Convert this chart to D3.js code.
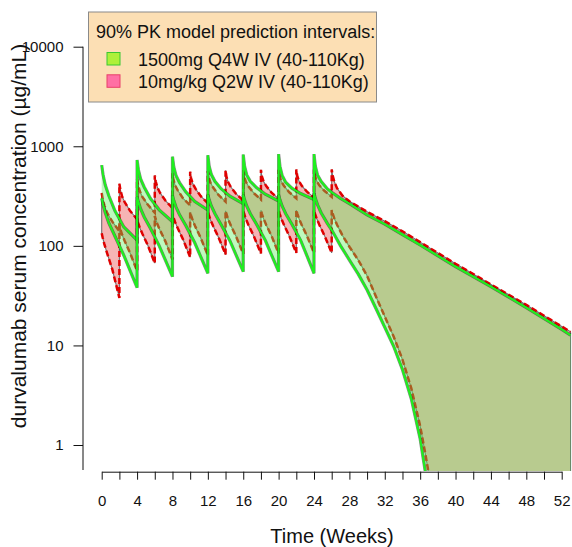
<!DOCTYPE html>
<html><head><meta charset="utf-8">
<script src="https://cdn.jsdelivr.net/npm/d3@7"></script>
<style>body{margin:0;background:#fff}svg{display:block;font-family:"Liberation Sans",Arial,Helvetica,sans-serif}</style>
</head><body><svg id="c" width="572" height="547"></svg>
<script>
// ---- tick labels ----
const xTickWeeks = [0,2,4,6,8,10,12,14,16,18,20,22,24,26,28,30,32,34,36,38,40,42,44,46,48,50,52];
const xLabelWeeks = [0,4,8,12,16,20,24,28,32,36,40,44,48,52];
const yTickValues = [1,10,100,1000,10000];
const legendTitle = "90% PK model prediction intervals:";
const seriesNames = ["1500mg Q4W IV (40-110Kg)", "10mg/kg Q2W IV (40-110Kg)"];

// ---- 1500 mg Q4W: 95th percentile [week, ug/mL] ----
const q4wUpper = [
 [0,647],[0.15,520],[0.4,410],[0.8,320],[1.5,225],[2.5,155],[4,114],
 [4,727],[4.15,580],[4.4,470],[4.8,390],[5.5,300],[6.5,230],[8,175],
 [8,785],[8.15,620],[8.4,510],[8.8,430],[9.5,350],[10.5,280],[12,229],
 [12,813],[12.15,630],[12.4,520],[12.8,445],[13.5,375],[14.5,315],[16,265],
 [16,825],[16.15,630],[16.4,515],[16.8,445],[17.5,385],[18.5,330],[20,282],
 [20,835],[20.15,630],[20.4,510],[20.8,435],[21.5,380],[22.5,335],[24,292],
 [24,835],[24.15,630],[24.4,515],[24.8,445],[25.5,375],[26,345],[27,300],[28,265],
 [30,205],[32,165],[34,130],[36,102],[40,62],[44,39],[48,24],[52,14.5],[53,12.7]
];
// ---- 1500 mg Q4W: 5th percentile ----
const q4wLower = [
 [0,300],[0.15,260],[0.4,215],[0.8,170],[1.5,125],[2.5,80],[4,38],
 [4,310],[4.15,275],[4.4,235],[4.8,195],[5.5,150],[6.5,100],[8,49],
 [8,320],[8.15,285],[8.4,245],[8.8,205],[9.5,160],[10.5,108],[12,53],
 [12,324],[12.15,290],[12.4,250],[12.8,210],[13.5,163],[14.5,112],[16,55],
 [16,324],[16.15,290],[16.4,250],[16.8,210],[17.5,165],[18.5,113],[20,55],
 [20,324],[20.15,290],[20.4,250],[20.8,210],[21.5,165],[22.5,113],[24,53],
 [24,338],[24.15,300],[24.4,258],[24.8,215],[25.5,168],[26,144],[27,100],[28,72],
 [29,52],[30,36],[31,23.5],[32,15.2],[33,9.8],[34,5.7],[35,2.9],[36,1.15],
 [36.55,0.56],[37,0.3],[37.5,0.1],[53,0.1]
];
// ---- 10 mg/kg Q2W: 95th percentile ----
const q2wUpper = [
 [0,340],[0.1,300],[0.3,255],[0.6,215],[1.2,175],[2,140],
 [2,420],[2.1,370],[2.3,315],[2.6,275],[3.2,225],[4,185],
 [4,470],[4.1,410],[4.3,355],[4.6,310],[5.2,260],[6,215],
 [6,510],[6.1,445],[6.3,385],[6.6,340],[7.2,285],[8,240],
 [8,535],[8.1,465],[8.3,405],[8.6,360],[9.2,300],[10,255],
 [10,555],[10.1,480],[10.3,420],[10.6,375],[11.2,315],[12,268],
 [12,565],[12.1,490],[12.3,430],[12.6,385],[13.2,325],[14,278],
 [14,572],[14.1,495],[14.3,435],[14.6,390],[15.2,332],[16,285],
 [16,577],[16.1,500],[16.3,440],[16.6,395],[17.2,338],[18,292],
 [18,580],[18.1,502],[18.3,443],[18.6,398],[19.2,342],[20,297],
 [20,582],[20.1,505],[20.3,445],[20.6,400],[21.2,345],[22,300],
 [22,584],[22.1,507],[22.3,448],[22.6,403],[23.2,350],[24,305],
 [24,585],[24.1,508],[24.3,450],[24.6,405],[25.2,355],[26,311],
 [26,586],[26.1,510],[26.3,440],[26.6,380],[27.2,320],[28,280],
 [30,220],[32,177],[34,140],[36,109],[40,66],[44,41],[48,25.5],[52,15.5],[53,13.7]
];
// ---- 10 mg/kg Q2W: 5th percentile ----
const q2wLower = [
 [0,134],[0.1,122],[0.3,104],[0.6,85],[1.2,58],[2,30],
 [2,160],[2.1,148],[2.3,130],[2.6,112],[3.2,85],[4,56],
 [4,185],[4.1,172],[4.3,152],[4.6,132],[5.2,102],[6,67],
 [6,200],[6.1,186],[6.3,165],[6.6,143],[7.2,111],[8,73],
 [8,210],[8.1,195],[8.3,173],[8.6,150],[9.2,116],[10,77],
 [10,218],[10.1,202],[10.3,179],[10.6,155],[11.2,120],[12,80],
 [12,222],[12.1,206],[12.3,182],[12.6,158],[13.2,122],[14,82],
 [14,225],[14.1,209],[14.3,184],[14.6,160],[15.2,124],[16,83],
 [16,227],[16.1,210],[16.3,186],[16.6,161],[17.2,125],[18,84],
 [18,228],[18.1,211],[18.3,187],[18.6,162],[19.2,126],[20,84],
 [20,229],[20.1,212],[20.3,188],[20.6,163],[21.2,126],[22,85],
 [22,229],[22.1,212],[22.3,188],[22.6,163],[23.2,126],[24,85],
 [24,229],[24.1,212],[24.3,188],[24.6,163],[25.2,126],[26,85],
 [26,229],[26.1,212],[26.3,188],[26.6,163],[27.2,128],[28,98],
 [29,72],[30,50],[31,31],[32,19.5],[33,12.3],[34,7.2],[35,3.7],[36,1.55],
 [36.6,0.8],[36.9,0.56],[37.3,0.25],[37.8,0.1],[53,0.1]
];

const svg = d3.select("#c");
const x = d3.scaleLinear().domain([0,52]).range([101.7,561.7]);
const y = d3.scaleLog().domain([0.561,10000]).range([470,46.7]);

svg.append("defs").append("clipPath").attr("id","plot")
  .append("rect").attr("x",83).attr("y",0).attr("width",489).attr("height",471);
const g = svg.append("g").attr("clip-path","url(#plot)");
const line = d3.line().x(d=>x(d[0])).y(d=>y(d[1]));
const band = (up, lo) => line(up.concat(lo.slice().reverse())) + "Z";

// Q2W band (pink) with grey border and red dashed limits
g.append("path").attr("d", band(q2wUpper,q2wLower))
  .attr("fill","#F6B4B4").attr("stroke","#707070").attr("stroke-width",1.1);
[q2wUpper,q2wLower].forEach(s=>{
  g.append("path").attr("d",line(s)).attr("fill","none")
   .attr("stroke","#E00000").attr("stroke-width",2.5).attr("stroke-dasharray","6,3");
});
// Q4W band (translucent green)
g.append("path").attr("d", band(q4wUpper,q4wLower))
  .attr("fill","rgb(84,242,84)").attr("fill-opacity",0.38);
[q4wUpper,q4wLower].forEach(s=>{
  g.append("path").attr("d",line(s)).attr("fill","none")
   .attr("stroke","#000").attr("stroke-opacity",0.45).attr("stroke-width",3.2);
  g.append("path").attr("d",line(s)).attr("fill","none")
   .attr("stroke","#1EF01E").attr("stroke-width",2.1);
});

// axes
const xAxis = d3.axisBottom(x).tickValues(xTickWeeks).tickSize(8).tickSizeOuter(0)
  .tickFormat(d => xLabelWeeks.includes(d) ? String(d) : "");
const xg = svg.append("g").attr("transform","translate(0,471.7)").call(xAxis);
xg.selectAll("text").attr("y",34.3).attr("dy",null).attr("font-size",15)
  .attr("font-family","Liberation Sans, Arial, sans-serif").attr("fill","#111");

const yAxis = d3.axisLeft(y).tickValues(yTickValues).tickSize(9.5).tickPadding(10).tickSizeOuter(0)
  .tickFormat(d => String(d));
const yg = svg.append("g").attr("transform","translate(83,0)").call(yAxis);
yg.select(".domain").attr("d","M0," + y(10000) + "V470");
yg.selectAll("text").attr("font-size",15)
  .attr("font-family","Liberation Sans, Arial, sans-serif").attr("fill","#111");
svg.selectAll(".domain, .tick line").attr("stroke","#111");

svg.append("text").attr("x",332).attr("y",543).attr("text-anchor","middle")
  .attr("font-size",20).attr("fill","#111").text("Time (Weeks)");
svg.append("text").attr("transform","translate(26,236) rotate(-90)").attr("text-anchor","middle")
  .attr("font-size",21).attr("fill","#111").text("durvalumab serum concentration (µg/mL)");

// legend
const lg = svg.append("g");
lg.append("rect").attr("x",88.5).attr("y",12).attr("width",288).attr("height",90)
  .attr("fill","#FCDFB4").attr("stroke","#8a8a8a").attr("stroke-width",1);
lg.append("text").attr("x",96).attr("y",37.5).attr("font-size",18).attr("fill","#111").text(legendTitle);
const swatchFill = ["#AEF03A","#FF70A4"], swatchStroke = ["#39C832","#E8406A"];
const rowY = [66, 88.3];
seriesNames.forEach((name,i)=>{
  lg.append("rect").attr("x",107).attr("y",rowY[i]-13.5).attr("width",13).attr("height",12.5)
    .attr("fill",swatchFill[i]).attr("stroke",swatchStroke[i]).attr("stroke-width",1);
  lg.append("text").attr("x",138).attr("y",rowY[i]).attr("font-size",18).attr("fill","#111").text(name);
});
</script></body></html>
